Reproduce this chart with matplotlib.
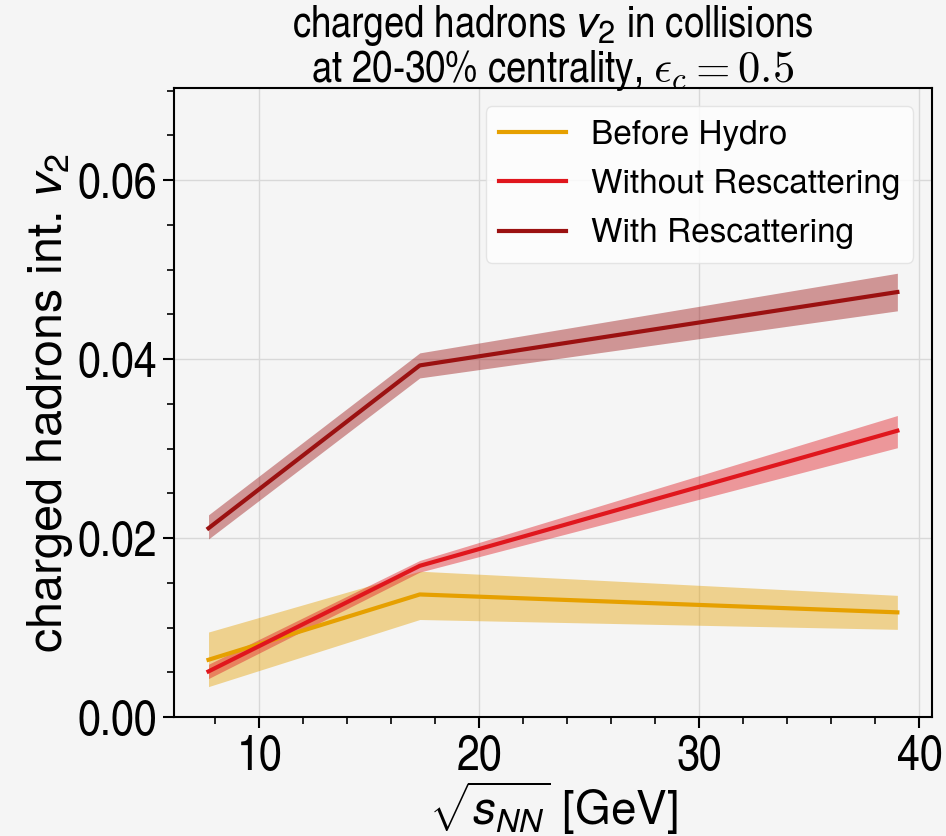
import numpy as np
import matplotlib
matplotlib.use('Agg')
import matplotlib.pyplot as plt
from matplotlib import font_manager
from matplotlib.ticker import MultipleLocator

# sqrt(s_NN) energies [GeV]
energies = [7.7, 17.3, 39.0]

# integrated v2 of charged hadrons, with lower/upper band edges
before_hydro = [0.0064, 0.0137, 0.0117]
before_hydro_lo = [0.0034, 0.0109, 0.0098]
before_hydro_hi = [0.0095, 0.0163, 0.0136]

without_resc = [0.0051, 0.0169, 0.0320]
without_resc_lo = [0.0043, 0.0162, 0.0301]
without_resc_hi = [0.0059, 0.0175, 0.0337]

with_resc = [0.0211, 0.0393, 0.0475]
with_resc_lo = [0.0199, 0.0379, 0.0454]
with_resc_hi = [0.0226, 0.0407, 0.0496]

labels = ['Before Hydro', 'Without Rescattering', 'With Rescattering']
colors = ['#e6a000', '#e0161d', '#9b1111']

installed = {f.name for f in font_manager.fontManager.ttflist}
narrow = 'TeX Gyre Heros Cn' if 'TeX Gyre Heros Cn' in installed else 'Archivo Narrow'
plain = 'TeX Gyre Heros' if 'TeX Gyre Heros' in installed else 'Liberation Sans'

plt.rcParams['font.family'] = [narrow, 'DejaVu Sans']
plt.rcParams['mathtext.fontset'] = 'custom'
plt.rcParams['mathtext.rm'] = plain
plt.rcParams['mathtext.it'] = plain + ':italic'
plt.rcParams['mathtext.bf'] = plain + ':bold'

bg = '#f5f5f5'
fig = plt.figure(figsize=(9.46, 8.36), dpi=100, facecolor=bg)
ax = fig.add_axes([0.184, 0.1423, 0.801, 0.7524], facecolor=bg)

series = [
    (before_hydro, before_hydro_lo, before_hydro_hi),
    (without_resc, without_resc_lo, without_resc_hi),
    (with_resc, with_resc_lo, with_resc_hi),
]
for (y, lo, hi), lab, c in zip(series, labels, colors):
    ax.fill_between(energies, lo, hi, color=c, alpha=0.42, lw=0)
    ax.plot(energies, y, color=c, lw=3, label=lab)

ax.set_ylim(0, 0.0703)
ax.set_yticks([0.0, 0.02, 0.04, 0.06])
ax.yaxis.set_minor_locator(MultipleLocator(0.005))
ax.xaxis.set_minor_locator(MultipleLocator(2))
ax.set_xticks([10, 20, 30, 40])
ax.grid(True, which='major', color='#d8d8d8', lw=1)
ax.set_axisbelow(True)

ax.tick_params(which='major', labelsize=36, length=8, width=1.5, direction='out', pad=4)
ax.tick_params(which='minor', length=5, width=1.2, direction='out')
for s in ax.spines.values():
    s.set_linewidth(1.5)

ax.set_xlabel(r'$\sqrt{s_{NN}}$ [GeV]', fontsize=33, labelpad=0, family=plain)
ax.set_ylabel(r'charged hadrons int. $v_2$', fontsize=35, labelpad=2, family=plain)

leg = ax.legend(loc='upper right', prop={'family': [plain, 'DejaVu Sans'], 'size': 24},
                frameon=True, fancybox=True, framealpha=0.8, edgecolor='#e0e0e0',
                handlelength=2.0, handletextpad=0.75, labelspacing=0.55,
                borderpad=0.4, borderaxespad=0.55)
leg.get_frame().set_facecolor('white')

fig.text(0.584, 0.969, r'charged hadrons $v_2$ in collisions', ha='center', va='center', fontsize=32)
fig.text(0.584, 0.916, r'at 20-30% centrality, $\epsilon_c = 0.5$', ha='center', va='center',
         fontsize=32, math_fontfamily='cm')

fig.savefig('out.png', dpi=100, facecolor=bg)
